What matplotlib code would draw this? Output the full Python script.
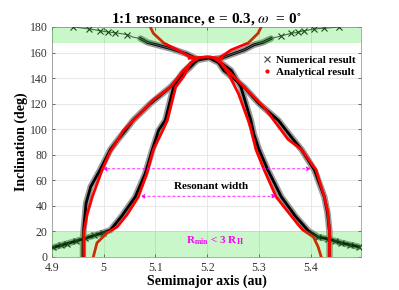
import matplotlib
matplotlib.use("Agg")
import matplotlib.pyplot as plt
from matplotlib.lines import Line2D

plt.rcParams['font.family'] = ['Liberation Serif', 'DejaVu Serif']
plt.rcParams['mathtext.fontset'] = 'stix'

# ---------------- data (semimajor axis [au], inclination [deg]) ----------------
# Numerical result branches
num_left_outer_a = [4.960, 4.960, 4.961, 4.966, 4.975, 4.993, 5.013, 5.028, 5.042, 5.057, 5.090, 5.129, 5.150, 5.168, 5.180, 5.200]
num_left_outer_i = [0, 10, 20, 42, 55, 68, 84, 92, 99, 107, 120, 133, 142, 149, 154, 155.5]
num_left_inner_a = [4.903, 4.930, 4.964, 4.999, 5.013, 5.035, 5.061, 5.080, 5.094, 5.106, 5.119, 5.135, 5.152, 5.170, 5.185]
num_left_inner_i = [7.5, 10.5, 14.5, 19.0, 21, 32, 47, 65, 84, 99, 107, 133, 144, 151, 155]
num_right_outer_a = [5.436, 5.436, 5.436, 5.432, 5.426, 5.407, 5.382, 5.362, 5.337, 5.300, 5.271, 5.232, 5.222, 5.205]
num_right_outer_i = [0, 10, 20, 35, 47, 68, 84, 94, 107, 120, 133, 146, 152, 155.5]
num_right_inner_a = [5.492, 5.459, 5.434, 5.414, 5.395, 5.370, 5.343, 5.317, 5.300, 5.290, 5.284, 5.265, 5.246, 5.226, 5.215]
num_right_inner_i = [8, 11, 14, 15.6, 20.5, 32, 47, 68, 84, 96, 107, 133, 146, 152, 155]
num_top_left_a = [5.180, 5.160, 5.130, 5.084, 5.071, 5.057, 5.046, 5.022, 5.009, 4.993, 4.972, 4.941]
num_top_left_i = [155, 159, 163, 168, 171, 172, 174, 175.5, 176, 177, 178.5, 180]
num_top_right_a = [5.215, 5.230, 5.250, 5.271, 5.290, 5.308, 5.323, 5.343, 5.362, 5.376, 5.387, 5.407, 5.426, 5.455]
num_top_right_i = [155, 156, 159, 162, 166, 168, 171, 173, 175, 176, 177, 178.5, 179, 180]

# Analytical result branches
ana_left_outer_a = [4.962, 4.962, 4.962, 4.968, 4.978, 4.988, 4.997, 5.012, 5.028, 5.038, 5.065, 5.096, 5.129, 5.154, 5.174]
ana_left_outer_i = [0, 10, 20, 33, 47, 58, 68, 82, 92, 99, 110, 123, 133, 146, 154]
ana_left_inner_a = [4.980, 4.987, 5.007, 5.026, 5.045, 5.067, 5.083, 5.096, 5.114, 5.123, 5.139, 5.154, 5.168, 5.180]
ana_left_inner_i = [0, 11, 19, 23.5, 33, 47, 65, 84, 99, 107, 133, 141, 152, 155]
ana_top_a = [5.165, 5.180, 5.200, 5.215, 5.228]
ana_top_i = [155.5, 156, 156.5, 156, 155]
ana_top_left_a = [5.180, 5.160, 5.143, 5.116, 5.096, 5.090]
ana_top_left_i = [155, 158, 162, 167.5, 175, 180]
ana_top_right_a = [5.220, 5.235, 5.246, 5.279, 5.298, 5.304]
ana_top_right_i = [155, 159, 162, 167.5, 175, 180]
ana_right_outer_a = [5.436, 5.436, 5.436, 5.433, 5.426, 5.410, 5.382, 5.356, 5.310, 5.271, 5.252, 5.240, 5.222]
ana_right_outer_i = [0, 10, 20, 35, 47, 68, 84, 92, 117, 133, 141, 146, 154]
ana_right_inner_a = [5.420, 5.414, 5.405, 5.385, 5.376, 5.333, 5.310, 5.294, 5.285, 5.279, 5.260, 5.240, 5.226, 5.215]
ana_right_inner_i = [0, 8, 15.6, 21, 25, 47, 68, 84, 99, 107, 128, 144, 152, 155]

# Sparse (individual) numerical markers in the shaded zones
sparse_a = [4.903, 4.918, 4.930, 4.947, 4.964, 4.982, 4.999,
            5.414, 5.434, 5.446, 5.459, 5.475, 5.492,
            4.941, 4.972, 4.993, 5.009, 5.022, 5.046,
            5.455, 5.426, 5.407, 5.387, 5.376, 5.362, 5.343]
sparse_i = [7.5, 9, 10.5, 12.5, 14.5, 17, 19,
            15.6, 14, 12.5, 11, 9.5, 8,
            180, 178.5, 177, 176, 175.5, 174,
            180, 179, 178.5, 177, 176, 175, 173]

# Shaded regions (R_min < 3 R_H)
band_low = (0, 20.5)
band_high = (167.5, 180)

# Resonant width arrows: (inclination, a_left, a_right)
arrow_i = [69, 47.5]
arrow_a_left = [4.998, 5.071]
arrow_a_right = [5.400, 5.333]

xticks = [4.9, 5.0, 5.1, 5.2, 5.3, 5.4]
xticklabels = ['4.9', '5', '5.1', '5.2', '5.3', '5.4']
yticks = list(range(0, 181, 20))

# ---------------- plot ----------------
fig = plt.figure(figsize=(3.99, 2.90), dpi=100)
ax = fig.add_axes([0.130, 0.114, 0.775, 0.793])

num_branches = [(num_left_outer_a, num_left_outer_i), (num_left_inner_a, num_left_inner_i),
                (num_right_outer_a, num_right_outer_i), (num_right_inner_a, num_right_inner_i),
                (num_top_left_a[:5], num_top_left_i[:5]), (num_top_right_a[:7], num_top_right_i[:7])]
for a, i in num_branches:
    ax.plot(a, i, color='#9a9a9a', lw=4.6, solid_capstyle='round', zorder=2)
    ax.plot(a, i, color='black', lw=2.0, zorder=3)
for a, i in [(num_top_left_a, num_top_left_i), (num_top_right_a, num_top_right_i)]:
    ax.plot(a, i, color='#555555', lw=0.8, zorder=3)
ax.plot(sparse_a, sparse_i, ls='none', marker='x', ms=4, mew=0.8, color='#222222', zorder=3)

ana_under = [(ana_left_inner_a, ana_left_inner_i), (ana_top_a, ana_top_i),
             (ana_top_left_a, ana_top_left_i), (ana_top_right_a, ana_top_right_i),
             (ana_right_inner_a, ana_right_inner_i)]
for a, i in ana_under:
    ax.plot(a, i, color='#ff0000', lw=2.0, zorder=4)
for a, i in [(ana_left_outer_a, ana_left_outer_i), (ana_right_outer_a, ana_right_outer_i)]:
    ax.plot(a, i, color='#ff0000', lw=2.0, zorder=7)

for lo, hi in [band_low, band_high]:
    ax.axhspan(lo, hi, color=(0.02, 0.86, 0.02), alpha=0.21, lw=0, zorder=6)

for yi, al, ar in zip(arrow_i, arrow_a_left, arrow_a_right):
    ax.annotate('', xy=(al, yi), xytext=(ar, yi),
                arrowprops=dict(arrowstyle='<|-|>', color='#ff00ff', lw=0.6,
                                linestyle=(0, (3, 3)), mutation_scale=6, shrinkA=0, shrinkB=0),
                zorder=8)

ax.text(5.135, 55, 'Resonant width', fontsize=8, fontweight='bold', color='black',
        va='center', ha='left', zorder=9)
ax.text(5.158, 12.5, r'R$_{\mathbf{min}}$ < 3 R$_{\mathbf{H}}$', fontsize=8, fontweight='bold',
        color='#ff00ff', va='center', ha='left', zorder=9)

ax.set_xlim(4.9, 5.497)
ax.set_ylim(0, 180)
ax.set_xticks(xticks)
ax.set_xticklabels(xticklabels)
ax.set_yticks(yticks)
ax.grid(True, color='#e4e4e4', lw=0.6)
ax.set_axisbelow(True)
ax.tick_params(direction='in', top=True, right=True, length=2.5, width=0.5,
               labelsize=8.5, colors='#333333')
ax.tick_params(axis='x', pad=4)
ax.tick_params(axis='y', pad=3)
for s in ax.spines.values():
    s.set_color('#8a8a8a')
    s.set_linewidth(0.5)
    s.set_zorder(1)

ax.set_xlabel('Semimajor axis (au)', fontsize=10, fontweight='bold', labelpad=0)
ax.set_ylabel('Inclination (deg)', fontsize=10, fontweight='bold', labelpad=1)
ax.set_title(r'1:1 resonance, e = 0.3, $\omega$  = 0$^{\circ}$', fontsize=11,
             fontweight='bold', pad=3)

handles = [Line2D([], [], ls='none', marker='x', ms=4, mew=0.8, color='#444444'),
           Line2D([], [], ls='none', marker='.', ms=4, color='#ff0000')]
ax.legend(handles, ['Numerical result', 'Analytical result'], loc='upper right',
          bbox_to_anchor=(1.0, 0.9), frameon=False,
          prop={'weight': 'bold', 'size': 8}, handletextpad=0.3, labelspacing=0.2,
          handlelength=1.0, borderaxespad=0.1)

fig.savefig('out.png', dpi=100)
